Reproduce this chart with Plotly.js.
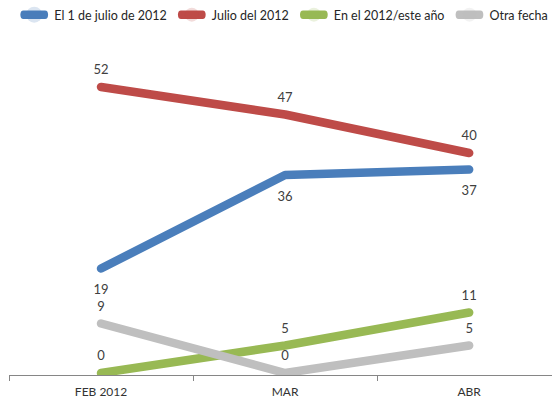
<!DOCTYPE html>
<html>
<head>
<meta charset="utf-8">
<script src="https://cdn.plot.ly/plotly-3.0.1.min.js"></script>
<style>
html, body { margin: 0; padding: 0; background: #fff; }
#chart { width: 552px; height: 402px; }
.scatterlayer path.js-line { stroke-linecap: round !important; stroke-linejoin: round !important; }
.legendlines path { stroke-linecap: round !important; transform-box: fill-box; transform-origin: center; transform: scaleX(0.72); }
</style>
</head>
<body>
<div id="chart"></div>
<script>
var categories = ["FEB 2012", "MAR", "ABR"];
var seriesNames = ["El 1 de julio de 2012", "Julio del 2012", "En el 2012/este año", "Otra fecha"];
var julio1 = [19, 36, 37];
var julio2012 = [52, 47, 40];
var en2012 = [0, 5, 11];
var otraFecha = [9, 0, 5];

var colors = ["#4A7EBB", "#BE4B48", "#98B954", "#BFBFBF"];
var values = [julio1, julio2012, en2012, otraFecha];
var labelPos = ["bottom center", "top center", "top center", "top center"];
var markerSize = [24, 14, 14, 14];
var FONT = "Lato, 'Liberation Sans', sans-serif";

var traces = values.map(function (v, i) {
  return {
    x: categories,
    y: v,
    name: seriesNames[i],
    type: "scatter",
    mode: "lines+markers+text",
    line: { color: colors[i], width: 8.5 },
    marker: { size: markerSize[i], opacity: 0, color: colors[i] },
    text: v.map(String),
    textposition: labelPos[i],
    textfont: { family: FONT, size: 13, color: "#404040" },
    hoverinfo: "none",
    cliponaxis: false
  };
});

var layout = {
  width: 552,
  height: 402,
  margin: { l: 9, r: 0, t: 43, b: 27 },
  paper_bgcolor: "#ffffff",
  plot_bgcolor: "#ffffff",
  showlegend: true,
  legend: {
    orientation: "h",
    x: 0.514, xref: "container", xanchor: "center",
    y: 1.0, yref: "container", yanchor: "top",
    font: { family: FONT, size: 12.5, color: "#262626" },
    itemwidth: 30,
    tracegroupgap: 0
  },
  xaxis: {
    type: "category",
    range: [-0.5, 2.45],
    showgrid: false,
    zeroline: false,
    showline: true,
    linecolor: "#868686",
    linewidth: 1,
    ticks: "outside",
    tickson: "boundaries",
    ticklen: 5,
    tickcolor: "#868686",
    tickfont: { family: FONT, size: 12, color: "#333333" },
    ticklabelstandoff: 6,
    fixedrange: true
  },
  yaxis: {
    range: [-0.36, 60],
    visible: false,
    showgrid: false,
    zeroline: false,
    fixedrange: true
  }
};

Plotly.newPlot("chart", traces, layout, { displayModeBar: false, staticPlot: true });
</script>
</body>
</html>
